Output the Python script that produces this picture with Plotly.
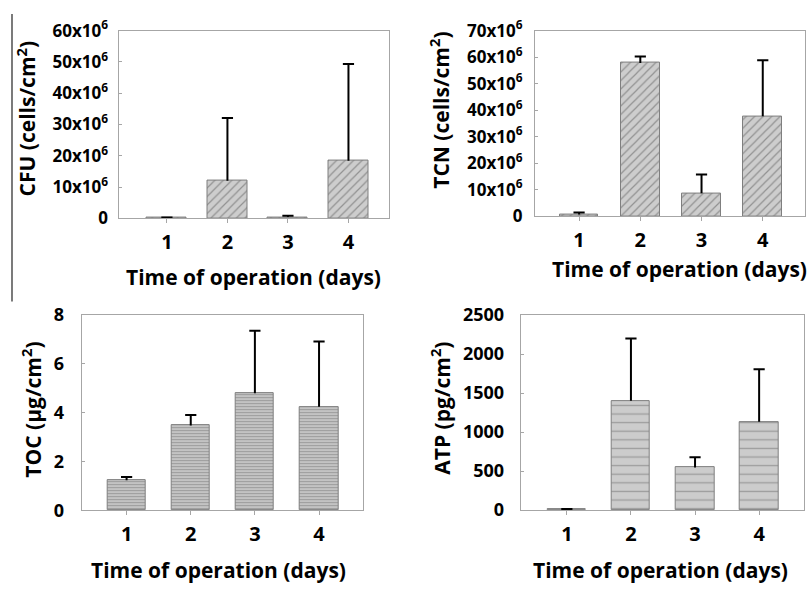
import plotly.graph_objects as go

# ---- data -------------------------------------------------------------
days = [1, 2, 3, 4]

# colony forming units (millions of cells / cm2)
cfu_mean = [0.1, 12.0, 0.4, 18.4]
cfu_err = [0.2, 20.1, 0.4, 30.9]

# total cell number (millions of cells / cm2)
tcn_mean = [0.6, 57.8, 8.6, 37.7]
tcn_err = [0.8, 2.4, 7.1, 21.1]

# total organic carbon (ug / cm2)
toc_mean = [1.23, 3.48, 4.80, 4.24]
toc_err = [0.13, 0.43, 2.56, 2.68]

# ATP (pg / cm2)
atp_mean = [5, 1400, 545, 1131]
atp_err = [7, 800, 131, 676]

cfu_ticks = [0, 10, 20, 30, 40, 50, 60]
tcn_ticks = [0, 10, 20, 30, 40, 50, 60, 70]
toc_ticks = [0, 2, 4, 6, 8]
atp_ticks = [0, 500, 1000, 1500, 2000, 2500]

x_title = "Time of operation (days)"

FONT = "Open Sans"
FRAME = "#a6a6a6"
BAR_LINE = "#7f7f7f"
W, H = 808, 596


def mega_labels(ticks):
    return ["0" if t == 0 else f"{t}x10<sup>6</sup>" for t in ticks]


def bold(size):
    return dict(family=FONT, size=size, color="black", weight="bold")


fig = go.Figure()

hatch = dict(shape="/", size=6, solidity=0.2, fgcolor="#555555", bgcolor="#cdcdcd")
panels = [
    dict(mean=cfu_mean, err=cfu_err, scale=1e6, ax="", xr=[0.2, 4.67], w=0.66,
         pattern=hatch),
    dict(mean=tcn_mean, err=tcn_err, scale=1e6, ax="2", xr=[0.28, 4.69], w=0.63,
         pattern=hatch),
    dict(mean=toc_mean, err=toc_err, scale=1, ax="3", xr=[0.3, 4.69], w=0.6,
         pattern=dict(shape="-", size=3, solidity=0.5, fgcolor="#6a6a6a", bgcolor="#cfcfcf")),
    dict(mean=atp_mean, err=atp_err, scale=1, ax="4", xr=[0.28, 4.70], w=0.6,
         pattern=dict(shape="-", size=8.6, solidity=0.16, fgcolor="#6e6e6e", bgcolor="#cccccc")),
]

for p in panels:
    y = [m * p["scale"] for m in p["mean"]]
    top = [(m + e) * p["scale"] for m, e in zip(p["mean"], p["err"])]
    xa = "x" + p["ax"]
    ya = "y" + p["ax"]
    fig.add_trace(go.Bar(
        x=days, y=y, width=p["w"], xaxis=xa, yaxis=ya,
        marker=dict(color="#cdcdcd", line=dict(color=BAR_LINE, width=1),
                    pattern=p["pattern"]),
        showlegend=False,
    ))
    # upper error whiskers: stem from bar top to mean + error, capped
    ex, ey = [], []
    for d, b, t in zip(days, y, top):
        ex += [d, d, None]
        ey += [b, t, None]
    fig.add_trace(go.Scatter(
        x=ex, y=ey, mode="lines", xaxis=xa, yaxis=ya,
        line=dict(color="black", width=2), showlegend=False,
    ))
    fig.add_trace(go.Scatter(
        x=days, y=top, mode="markers", xaxis=xa, yaxis=ya,
        marker=dict(symbol="line-ew", size=8, line=dict(color="black", width=2)),
        showlegend=False,
    ))


def px_dom(a, b, total, flip=False):
    if flip:
        return [1 - b / total, 1 - a / total]
    return [a / total, b / total]


domains = {
    "": (px_dom(118.5, 389, W), px_dom(17.3, 213.3, H, True)),
    "2": (px_dom(535, 805, W), px_dom(17.3, 211, H, True)),
    "3": (px_dom(81.7, 363.3, W), px_dom(314.3, 518, H, True)),
    "4": (px_dom(520.7, 804, W), px_dom(314.3, 517.7, H, True)),
}
# range, tick values, tick text, label gap, tick font size
y_setup = {
    "": ([0, 60e6], [t * 1e6 for t in cfu_ticks], mega_labels(cfu_ticks), 6, 17),
    "2": ([0, 70e6], [t * 1e6 for t in tcn_ticks], mega_labels(tcn_ticks), 8, 17),
    "3": ([0, 8], toc_ticks, [str(t) for t in toc_ticks], 13, 18),
    "4": ([0, 2500], atp_ticks, [str(t) for t in atp_ticks], 12, 18),
}

layout = {}
for p in panels:
    k = p["ax"]
    xd, yd = domains[k]
    yr, yv, yt, ystand, ysize = y_setup[k]
    layout["xaxis" + k] = dict(
        domain=xd, range=p["xr"], anchor="y" + k,
        tickvals=days, ticktext=[str(d) for d in days],
        ticks="outside", ticklen=4, tickcolor=FRAME, ticklabelstandoff=2,
        showline=True, linecolor=FRAME, linewidth=1, mirror=True,
        showgrid=False, zeroline=False, tickfont=bold(20), fixedrange=True,
    )
    layout["yaxis" + k] = dict(
        domain=yd, range=yr, anchor="x" + k,
        tickvals=yv, ticktext=yt,
        ticks="inside", ticklen=3, tickcolor=FRAME, ticklabelstandoff=ystand,
        showline=True, linecolor=FRAME, linewidth=1, mirror=True,
        showgrid=False, zeroline=False, tickfont=bold(ysize), fixedrange=True,
    )

fig.update_layout(**layout)

# axis titles (pixel centres)
titles = [
    (x_title, 253, 274, 0),
    (x_title, 679, 266, 0),
    (x_title, 218, 580, 0),
    (x_title, 660, 580, 0),
    ("CFU (cells/cm<sup>2</sup>)", 26, 110, -90),
    ("TCN (cells/cm<sup>2</sup>)", 440, 101, -90),
    ("TOC (µg/cm<sup>2</sup>)", 32, 413, -90),
    ("ATP (pg/cm<sup>2</sup>)", 441, 412, -90),
]
for text, px, py, ang in titles:
    fig.add_annotation(
        text=text, x=px / W, y=1 - py / H, xref="paper", yref="paper",
        xanchor="center", yanchor="middle", textangle=ang, showarrow=False,
        font=bold(21),
    )

# thin divider rule down the left edge
fig.add_shape(type="line", xref="paper", yref="paper",
              x0=12 / W, x1=12 / W, y0=1, y1=1 - 300 / H,
              line=dict(color="#222222", width=1.2))

fig.update_layout(
    width=W, height=H, margin=dict(l=0, r=0, t=0, b=0),
    paper_bgcolor="white", plot_bgcolor="white",
    bargap=0, showlegend=False,
)

fig.write_html("out.html", config={"displayModeBar": False})
